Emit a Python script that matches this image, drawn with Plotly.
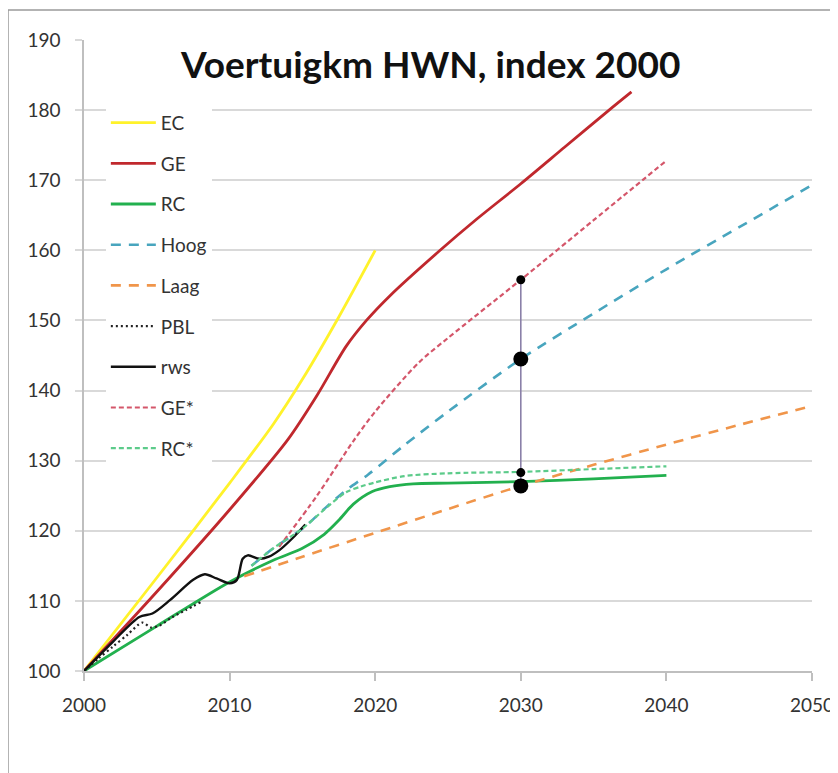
import plotly.graph_objects as go

# ---- data ----
ec_x = [2000, 2005, 2010, 2013, 2015, 2017.5, 2020]
ec_y = [100, 113.3, 126.8, 135.2, 141.6, 150.5, 160]

ge_x = [2000, 2005, 2010, 2014, 2016, 2018, 2019.4, 2021, 2024.4, 2027, 2030, 2033, 2036, 2037.6]
ge_y = [100, 111.3, 123, 133, 139.3, 146.3, 150, 153.5, 159.9, 164.5, 169.5, 174.7, 179.9, 182.6]

rc_x = [2000, 2005, 2010, 2013, 2015, 2016.5, 2017.5, 2018.5, 2019.8, 2021, 2022.6, 2025, 2030, 2035, 2040]
rc_y = [100, 106.4, 112.7, 115.8, 117.5, 119.5, 121.5, 123.8, 125.6, 126.3, 126.7, 126.8, 127.0, 127.4, 127.9]

hoog_x = [2011.5, 2013, 2015, 2016.6, 2018, 2019.5, 2022, 2025, 2030, 2035, 2040, 2045, 2050]
hoog_y = [115, 117.5, 120.3, 123.3, 125.8, 128, 132.2, 137, 144.5, 151, 157.3, 163.3, 169.3]

laag_x = [2011, 2015, 2020, 2025, 2030, 2035, 2040, 2045, 2050]
laag_y = [113.5, 116.3, 119.7, 123.1, 126.4, 129.4, 132.3, 135.1, 137.8]

pbl_x = [2000, 2001, 2002, 2003, 2004, 2004.6, 2005.2, 2006, 2007, 2008]
pbl_y = [100, 101.8, 103.5, 105.2, 106.9, 106.2, 106.5, 107.6, 108.7, 109.8]

rws_x = [2000, 2002, 2003.8, 2004.7, 2005.9, 2007.5, 2008.3, 2009.1, 2010, 2010.5, 2010.9,
         2011.25, 2012.05, 2012.7, 2013.4, 2014.3, 2015.2]
rws_y = [100, 104.2, 107.7, 108.2, 110.1, 113, 113.8, 113.2, 112.5, 113, 116,
         116.5, 116, 116.3, 117.2, 118.9, 120.9]

ges_x = [2013.4, 2016, 2018.5, 2020, 2023, 2025, 2030, 2035, 2040]
ges_y = [117.7, 125, 132.8, 137, 144, 147.5, 155.8, 164.3, 172.8]

rcs_x = [2011.5, 2013, 2015, 2016.6, 2018, 2019, 2020, 2022, 2025, 2030, 2035, 2040]
rcs_y = [115, 117.5, 120.3, 123.2, 125.5, 126.3, 126.9, 127.8, 128.2, 128.4, 128.8, 129.2]

mark_x = [2030, 2030, 2030, 2030]
mark_y = [155.8, 144.5, 128.3, 126.4]
mark_size = [9, 15, 9, 15]

x_ticks = [2000, 2010, 2020, 2030, 2040, 2050]
y_ticks = [100, 110, 120, 130, 140, 150, 160, 170, 180, 190]

FONT = "Lato"

series = [
    ("EC", ec_x, ec_y, "#FFF22A", "solid", 2.8),
    ("GE", ge_x, ge_y, "#C0282D", "solid", 2.8),
    ("RC", rc_x, rc_y, "#22B04E", "solid", 2.8),
    ("Hoog", hoog_x, hoog_y, "#48A5BE", "10px,8px", 2.6),
    ("Laag", laag_x, laag_y, "#F0954A", "10px,8px", 2.6),
    ("PBL", pbl_x, pbl_y, "#222222", "2px,3px", 2.2),
    ("rws", rws_x, rws_y, "#111111", "solid", 2.4),
    ("GE*", ges_x, ges_y, "#D4566A", "5px,3px", 2.2),
    ("RC*", rcs_x, rcs_y, "#5CCB8A", "5px,3px", 2.2),
]

fig = go.Figure()
for name, xs, ys, col, dash, w in series:
    fig.add_trace(go.Scatter(
        x=xs, y=ys, mode="lines", name=name, legendgroup=name,
        line=dict(color=col, dash=dash, width=w, shape="spline", smoothing=0.8),
    ))

# vertical bar at 2030 with markers
fig.add_trace(go.Scatter(
    x=[mark_x[0], mark_x[-1]], y=[max(mark_y), min(mark_y)], mode="lines",
    line=dict(color="#8A80A8", width=1.6), showlegend=False, hoverinfo="skip"))
fig.add_trace(go.Scatter(
    x=mark_x, y=mark_y, mode="markers",
    marker=dict(color="#000000", size=mark_size, opacity=1, line=dict(width=0)),
    showlegend=False))

fig.update_layout(
    width=838, height=773,
    margin=dict(l=76, r=34, t=32, b=110),
    paper_bgcolor="white", plot_bgcolor="white",
    font=dict(family=FONT, size=19, color="#333333"),
    showlegend=True,
    legend=dict(
        x=0.03, y=0.899, xanchor="left", yanchor="top",
        bgcolor="white", borderwidth=0,
        tracegroupgap=13, itemwidth=45,
        font=dict(family=FONT, size=19, color="#333333"),
    ),
    xaxis=dict(
        range=[2000, 2050], tickvals=x_ticks, showgrid=False, zeroline=False,
        showline=True, linecolor="#BFBFBF", linewidth=1.5,
        ticks="outside", ticklen=8, tickcolor="#BFBFBF", tickwidth=1.5,
        ticklabelstandoff=8,
        tickfont=dict(family=FONT, size=19, color="#333333"),
    ),
    yaxis=dict(
        range=[100, 190], tickvals=y_ticks, showgrid=True, gridcolor="#D9D9D9",
        gridwidth=1.5, zeroline=False,
        showline=True, linecolor="#BFBFBF", linewidth=1.5,
        ticks="outside", ticklen=7, tickcolor="#D9D9D9", tickwidth=1.5,
        ticklabelstandoff=11,
        tickfont=dict(family=FONT, size=19, color="#333333"),
    ),
    annotations=[dict(
        text="<b>Voertuigkm HWN, index 2000</b>",
        xref="paper", yref="paper", x=0.475, y=0.9635,
        xanchor="center", yanchor="middle", showarrow=False,
        bgcolor="white", borderpad=4,
        font=dict(family=FONT, size=37, color="#111111"),
    )],
    shapes=[dict(
        type="rect", xref="paper", yref="paper",
        x0=-0.1044, y0=-0.5, x1=1.2, y1=1.0475,
        line=dict(color="#9A9A9A", width=1.5), fillcolor="rgba(0,0,0,0)",
        layer="below",
    )],
)

fig.write_html("out.html")
